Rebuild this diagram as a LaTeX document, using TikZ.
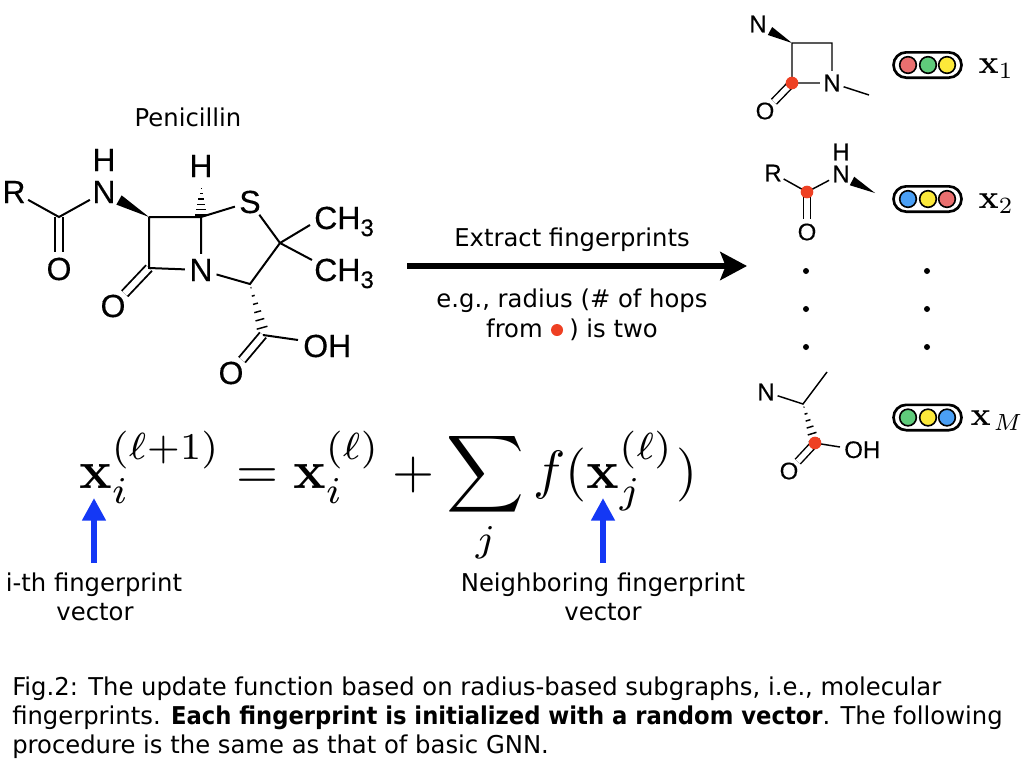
\documentclass[tikz,border=0pt]{standalone}
\usepackage[no-math]{fontspec}
\setmainfont[FakeStretch=0.99,BoldFeatures={FakeStretch=0.925}]{DejaVu Sans}
\setsansfont[FakeStretch=0.99]{DejaVu Sans}
\newfontfamily\atomfont[FakeBold=0.3]{Liberation Sans}
\usetikzlibrary{arrows.meta,calc}
\definecolor{dotred}{HTML}{EE4023}
\definecolor{fpred}{HTML}{EA6F6F}
\definecolor{fpgreen}{HTML}{5FCB7B}
\definecolor{fpyellow}{HTML}{FCE93A}
\definecolor{fpblue}{HTML}{4A9FF5}
\definecolor{arrowblue}{HTML}{1438F5}
\newcommand{\lbl}{\fontsize{18.4}{22}\selectfont}
\newcommand{\wedgebond}[3][4pt]{\fill[black] (#2) -- ($(#3)!#1!90:(#2)$) -- ($(#3)!#1!-90:(#2)$) -- cycle;}
\newcommand{\hashbond}[2]{%
  \foreach \t in {0.08,0.25,0.42,0.59,0.76,0.93}{%
    \draw[line width=1.1pt] ($(#1)!\t!(#2)!{\t*4.5pt}!90:(#2)$) -- ($(#1)!\t!(#2)!{\t*4.5pt}!-90:(#2)$);}}
\newcommand{\pill}[5]{%
  \node[pillbox] (#1) at (927.5,#2) {};
  \node[fpdot,fill=#3] (#1a) at (908,#2) {};
  \node[fpdot,fill=#4] (#1b) at (928,#2) {};
  \node[fpdot,fill=#5] (#1c) at (947,#2) {};}
\tikzset{
  x=0.75pt,y=-0.75pt,
  atom/.style={circle,inner sep=0pt,font=\atomfont\fontsize{24}{24}\selectfont},
  satom/.style={circle,inner sep=0pt,font=\atomfont\fontsize{18}{18}\selectfont},
  groupname/.style={inner sep=0pt,font=\atomfont\fontsize{24}{24}\selectfont},
  sgroupname/.style={inner sep=0pt,font=\atomfont\fontsize{18}{18}\selectfont},
  bond/.style={line width=1.5pt},
  sbond/.style={line width=1.1pt},
  dbl/.style={line width=1.4pt,double,double distance=4.6pt},
  sdbl/.style={line width=1.1pt,double,double distance=4.1pt},
  rdot/.style={circle,fill=dotred,inner sep=0pt,minimum size=9.5pt},
  bdot/.style={circle,fill=black,inner sep=0pt,minimum size=4.5pt},
  pillbox/.style={draw=black,line width=2pt,rounded corners=9.5pt,minimum width=51pt,minimum height=19pt,inner sep=0pt},
  fpdot/.style={circle,draw=black,line width=1.2pt,minimum size=12.5pt,inner sep=0pt},
  txt/.style={inner sep=0pt,anchor=base,font=\lbl},
  captxt/.style={inner sep=0pt,anchor=base west,font=\lbl},
  vlabel/.style={inner sep=0pt,anchor=base west,scale=2.5},
  bluearrow/.style={draw=arrowblue,line width=4.5pt,-{Triangle[length=17pt,width=17pt]}},
  bigarrow/.style={line width=5pt,-{Stealth[length=20pt,width=21pt,inset=4pt]}},
}
\begin{document}
\begin{tikzpicture}
\useasboundingbox (0,0) rectangle (1024,768);
% ---- Penicillin
\node[txt] (pentitle) at (188,126) {Penicillin};
\node[atom] (R) at (14,192) {R};
\node[atom] (NH) at (104,192) {N};
\node[groupname] (Ha) at (104,160) {H};
\node[atom] (Oa) at (59,269) {O};
\node[groupname] (Hb) at (201,166) {H};
\node[atom] (S) at (250,202) {S};
\node[atom] (Nr) at (201,270) {N};
\node[atom] (Ob) at (113,306) {O};
\node[atom] (Oc) at (231,373) {O};
\node[groupname,anchor=base west] (OH) at (303,357) {OH};
\node[groupname,anchor=base west] (CHa) at (314,229) {CH\raisebox{-0.22em}{\fontsize{18}{18}\selectfont 3}};
\node[groupname,anchor=base west] (CHb) at (314,281) {CH\raisebox{-0.22em}{\fontsize{18}{18}\selectfont 3}};
\coordinate (Ca) at (59,217);
\coordinate (Cb) at (149,217);
\coordinate (Cc) at (201,217);
\coordinate (Cd) at (149,268);
\coordinate (Ce) at (280,243);
\coordinate (Cf) at (250,284);
\coordinate (Cg) at (263,335);
\coordinate (wa) at (119,200);
\coordinate (ha) at (201,186);
\coordinate (hb) at (263,331);
\coordinate (ea) at (310,225);
\coordinate (eb) at (312,260);
\coordinate (ec) at (298,340);
\draw[dbl] (Ca) -- (Oa);
\draw[dbl] (Cd) -- (Ob);
\draw[dbl] (Cg) -- (Oc);
\draw[bond] (R) -- (Ca) -- (NH);
\draw[bond] (Cb) -- (Cc) -- (Nr) (Cb) -- (Cd) -- (Nr);
\draw[bond] (Cc) -- (S) (S) -- (Ce) -- (ea) (Ce) -- (eb) (Ce) -- (Cf) -- (Nr) (Cg) -- (ec);
\wedgebond{Cb}{wa}
\hashbond{ha}{Cc}
\hashbond{Cf}{hb}
% ---- central arrow
\coordinate (bigS) at (407,266);
\coordinate (bigE) at (747,266);
\draw[bigarrow] (bigS) -- (bigE);
\node[txt] (extract) at (572,246) {Extract fingerprints};
\node[txt] (eg) at (572,307) {e.g., radius (\# of hops};
\node[txt,anchor=base east] (from) at (543,337) {from};
\node[rdot,minimum size=9pt] (fromdot) at (557,330) {};
\node[txt,anchor=base west] (istwo) at (569,337) {) is two};
% ---- fragment 1
\node[satom] (N1) at (758,24) {N};
\node[satom] (N1b) at (832,83) {N};
\node[satom] (O1) at (765,111) {O};
\coordinate (a1) at (792,43);
\coordinate (a2) at (832,43);
\coordinate (a3) at (792,83);
\coordinate (a4) at (869,95);
\coordinate (a5) at (770,31);
\draw[sdbl] (a3) -- (O1);
\draw[sbond] (a1) -- (a2) -- (N1b) -- (a3) -- (a1) (N1b) -- (a4);
\wedgebond[3.4pt]{a1}{a5}
\node[rdot] (d1) at (a3) {};
% ---- fragment 2
\node[satom] (R2) at (773,173) {R};
\node[sgroupname] (N2) at (841,174) {N};
\node[sgroupname] (H2) at (841,152) {H};
\node[satom] (O2) at (807,232) {O};
\coordinate (b1) at (807,192);
\coordinate (b2) at (875,193);
\coordinate (b3) at (852,181);
\draw[sdbl] (b1) -- (O2);
\draw[sbond] (R2) -- (b1);
\draw[sbond,shorten >=2.5pt] (b1) -- (N2);
\wedgebond[3.6pt]{b2}{b3}
\node[rdot] (d2) at (b1) {};
% ---- ellipsis dots
\foreach \n/\y in {1/271,2/309,3/347}{
  \node[bdot] (dl\n) at (806,\y) {};
  \node[bdot] (dr\n) at (927,\y) {};}
% ---- fragment M
\node[satom] (N3) at (766,392) {N};
\node[sgroupname,anchor=base west] (OH3) at (844,458) {OH};
\node[satom] (O3) at (789,471) {O};
\coordinate (c1) at (803,404);
\coordinate (c2) at (827,372);
\coordinate (c3) at (815,443);
\coordinate (c4) at (840,447);
\draw[sdbl] (c3) -- (O3);
\draw[sbond] (N3) -- (c1) -- (c2) (c3) -- (c4);
\hashbond{c1}{c3}
\node[rdot] (d3) at (c3) {};
% ---- fingerprint pills
\pill{p1}{65}{fpred}{fpgreen}{fpyellow}
\pill{p2}{199}{fpblue}{fpyellow}{fpred}
\pill{p3}{417.5}{fpgreen}{fpyellow}{fpblue}
\node[vlabel] (x1) at (978,73) {$\mathbf{x}_1$};
\node[vlabel] (x2) at (978,208) {$\mathbf{x}_2$};
\node[vlabel] (xM) at (970,425) {$\mathbf{x}_{\mkern2mu M}$};
% ---- formula
\node[inner sep=0pt,anchor=base west,scale=4.05] (formula) at (78,488)
  {$\displaystyle \mathbf{x}_i^{(\ell+1)}=\mathbf{x}_i^{(\ell)}+\sum_j f(\mathbf{x}_j^{(\ell)}\mkern1mu)$};
\node[txt] (ith) at (94,591) {i-th fingerprint};
\node[txt] (ithv) at (95,620) {vector};
\node[txt] (nb) at (603,591) {Neighboring fingerprint};
\node[txt] (nbv) at (603,620) {vector};
\coordinate (u1) at (94,498);
\coordinate (u2) at (603,498);
\coordinate (u1s) at (94,563);
\coordinate (u2s) at (603,563);
\draw[bluearrow] (u1s) -- (u1);
\draw[bluearrow] (u2s) -- (u2);
% ---- caption
\node[captxt] (cap1) at (12,695) {Fig.2: The update function based on radius-based subgraphs, i.e., molecular};
\node[captxt] (cap2) at (12,724) {fingerprints. \textbf{Each fingerprint is initialized with a random vector}. The following};
\node[captxt] (cap3) at (12,753) {procedure is the same as that of basic GNN.};
\end{tikzpicture}
\end{document}
